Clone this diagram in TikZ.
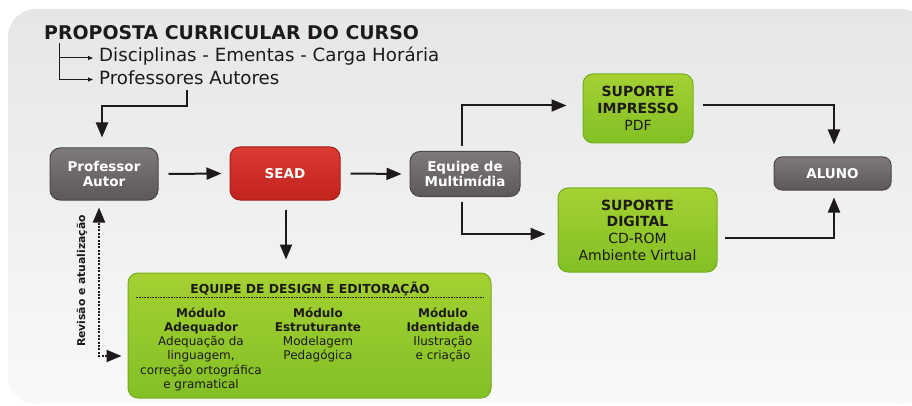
\documentclass[tikz,border=0pt]{standalone}
\usepackage{fontspec}
\setmainfont{DejaVu Sans}
\usetikzlibrary{arrows.meta,calc}
\definecolor{panelTop}{HTML}{E5E6E7}
\definecolor{panelBot}{HTML}{F9F9F9}
\definecolor{grayTop}{HTML}{7D7A79}
\definecolor{grayBot}{HTML}{5B5857}
\definecolor{grayEdge}{HTML}{4A4746}
\definecolor{redTop}{HTML}{DA3A32}
\definecolor{redBot}{HTML}{C1231D}
\definecolor{redEdge}{HTML}{A81C17}
\definecolor{greenTop}{HTML}{A5D032}
\definecolor{greenBot}{HTML}{82C025}
\definecolor{greenEdge}{HTML}{74AE1E}
\definecolor{ink}{HTML}{1E1A1A}
\tikzset{
  boxbase/.style={rounded corners=10pt, inner sep=0pt, align=center, line width=1pt},
  graybox/.style={boxbase, top color=grayTop, bottom color=grayBot, draw=grayEdge,
    text=white, font=\fontsize{13.5}{15.5}\selectfont\bfseries},
  redbox/.style={boxbase, top color=redTop, bottom color=redBot, draw=redEdge,
    text=white, font=\fontsize{13.5}{15.5}\selectfont\bfseries},
  greenbox/.style={boxbase, top color=greenTop, bottom color=greenBot, draw=greenEdge,
    text=ink},
  arr/.style={draw=ink, line width=2pt, -{Triangle[length=15pt,width=12pt]}},
  thinarr/.style={draw=ink, line width=1pt, -{Triangle[length=5pt,width=4pt]}},
  dotarr/.style={draw=ink, line width=2pt, dash pattern=on 2pt off 1.4pt,
    {Triangle[length=15pt,width=12pt]}-{Triangle[length=15pt,width=12pt]}},
  modtext/.style={inner sep=0pt, align=center, text=ink,
    font=\fontsize{12}{14.2}\selectfont, anchor=north},
}
\begin{document}
\begin{tikzpicture}[x=1pt,y=-1pt]
\useasboundingbox (0,0) rectangle (912,406);
% background panel
\shade[top color=panelTop, bottom color=panelBot, rounded corners=28pt]
  (8,9) rectangle (930,404);
\fill[white] (912,0) rectangle (935,410);

% header texts
\node[anchor=base west, inner sep=0pt, text=ink,
  font=\fontsize{18.9}{20}\selectfont\bfseries] (title) at (44,40)
  {PROPOSTA CURRICULAR DO CURSO};
\node[anchor=base west, inner sep=0pt, text=ink,
  font=\fontsize{18.2}{20}\selectfont] (disc) at (99,62)
  {Disciplinas - Ementas - Carga Horária};
\node[anchor=base west, inner sep=0pt, text=ink,
  font=\fontsize{18.2}{20}\selectfont] (autores) at (99,85)
  {Professores Autores};

% boxes
\node[graybox, minimum width=108pt, minimum height=52pt] (prof) at (104,174)
  {Professor\\Autor};
\node[redbox, minimum width=110pt, minimum height=53pt] (sead) at (285,173.5)
  {SEAD};
\node[graybox, minimum width=110pt, minimum height=45pt] (equipe) at (465,174)
  {Equipe de\\Multimídia};
\node[greenbox, font=\fontsize{14}{17}\selectfont, minimum width=110pt, minimum height=69pt] (impresso) at (638,108.5)
  {\textbf{SUPORTE}\\\textbf{IMPRESSO}\\PDF};
\node[greenbox, font=\fontsize{14}{16.7}\selectfont, minimum width=159pt, minimum height=84pt] (digital) at (637.5,230)
  {\textbf{SUPORTE}\\\textbf{DIGITAL}\\CD-ROM\\Ambiente Virtual};
\node[graybox, rounded corners=8pt, minimum width=117pt, minimum height=33pt] (aluno) at (832.5,173.5)
  {ALUNO};
\node[greenbox, minimum width=363pt, minimum height=125pt] (design) at (309.5,335.5) {};

% design box contents
\node[inner sep=0pt, text=ink, font=\fontsize{12.4}{14}\selectfont\bfseries] (dtitle) at (310,289)
  {EQUIPE DE DESIGN E EDITORAÇÃO};
\draw[ink, line width=0.8pt, dash pattern=on 0.8pt off 0.8pt]
  ($(design.west)+(8,-38.5)$) -- ($(design.east)+(-8,-38.5)$);
\node[modtext] (m1) at (201,307.5)
  {\textbf{Módulo}\\\textbf{Adequador}\\Adequação da\\linguagem,\\correção ortográfica\\e gramatical};
\node[modtext] (m2) at (318,307.5)
  {\textbf{Módulo}\\\textbf{Estruturante}\\Modelagem\\Pedagógica};
\node[modtext] (m3) at (443,307.5)
  {\textbf{Módulo}\\\textbf{Identidade}\\Ilustração\\e criação};

% header connectors
\draw[thinarr] ($(title.base west)+(15,3)$) |- ($(autores.base west)+(-6,-5.5)$);
\draw[thinarr] ($(title.base west)+(15,18)$) -- ($(disc.base west)+(-6,-4)$);
\draw[arr] ($(autores.base west)+(88,5)$) |- ($(prof.north)+(-2,-41)$) -- ($(prof.north)+(-2,-10)$);

% main connectors
\draw[arr] ($(prof.east)+(10,0)$) -- ($(sead.west)+(-8,0)$);
\draw[arr] ($(sead.east)+(10,0)$) -- ($(equipe.west)+(-8,0)$);
\draw[arr] ($(equipe.north)+(-3,-5)$) |- ($(impresso.west)+(-16,-3)$);
\draw[arr] ($(equipe.south)+(-3,5)$) |- ($(digital.west)+(-12,4)$);
\draw[arr] ($(impresso.east)+(9,-3)$) -| ($(aluno.north)+(1.5,-12)$);
\draw[arr] ($(digital.east)+(7,8)$) -| ($(aluno.south)+(1.5,7)$);
\draw[arr] ($(sead.south)+(1,9)$) -- ($(sead.south |- design.north)+(1,-13)$);

% revision loop
\draw[dotarr] ($(design.west)+(-6,20.5)$) -| ($(prof.south)+(-5,7)$);
\node[rotate=90, inner sep=0pt, text=ink, font=\fontsize{10.8}{12}\selectfont\bfseries] (rev) at (82,281)
  {Revisão e atualização};
\end{tikzpicture}
\end{document}
